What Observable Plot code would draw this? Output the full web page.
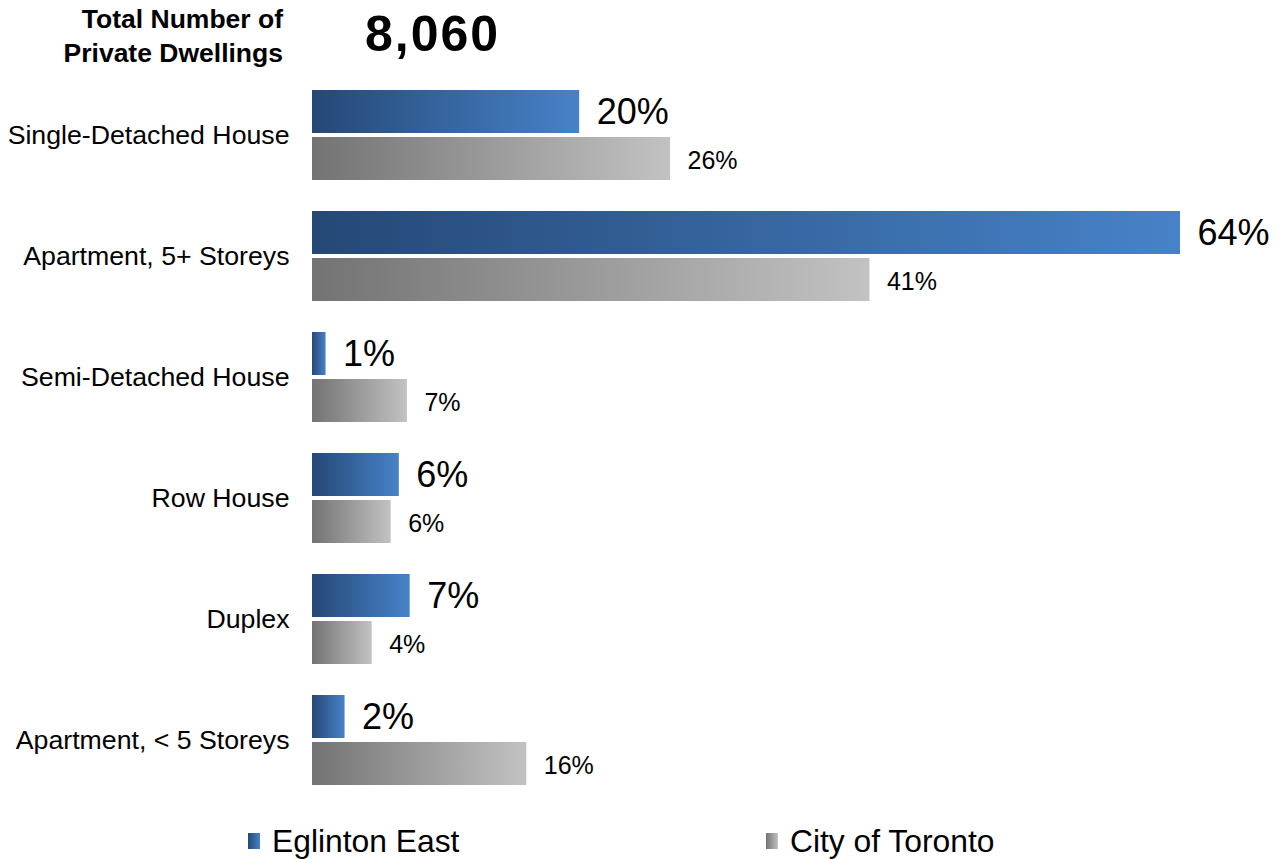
<!DOCTYPE html>
<html>
<head>
<meta charset="utf-8">
<script src="https://cdn.jsdelivr.net/npm/d3@7"></script>
<script src="https://cdn.jsdelivr.net/npm/@observablehq/plot@0.6"></script>
<style>
  html, body { margin: 0; padding: 0; background: #fff; }
  body { width: 1281px; height: 859px; position: relative; overflow: hidden;
         font-family: "Liberation Sans", Arial, Helvetica, sans-serif; color: #000; }
  #title { position: absolute; left: 0; top: 2px; width: 283px; text-align: right;
           font-weight: bold; font-size: 26.5px; line-height: 34px; }
  #total { position: absolute; left: 365px; top: 9px; font-weight: bold;
           font-size: 50px; line-height: 50px; letter-spacing: 2px; }
  #chart { position: absolute; left: 0; top: 80px; }
  .legend-item { position: absolute; top: 823px; height: 36px; display: flex; align-items: center;
                 font-size: 31.8px; }
  .swatch { width: 12px; height: 16px; margin-right: 12px; }
</style>
</head>
<body>
<div id="title">Total Number of<br>Private Dwellings</div>
<div id="total"></div>
<div id="chart"></div>
<div class="legend-item" style="left:248px"><div class="swatch" style="background:linear-gradient(to right,#254876,#4782c8)"></div><span>Eglinton East</span></div>
<div class="legend-item" style="left:766px"><div class="swatch" style="background:linear-gradient(to right,#737373,#c2c2c2)"></div><span>City of Toronto</span></div>
<script>
const totalDwellings = "8,060";
const categories = ["Single-Detached House", "Apartment, 5+ Storeys", "Semi-Detached House", "Row House", "Duplex", "Apartment, < 5 Storeys"];
const seriesNames = ["Eglinton East", "City of Toronto"];
const eglintonEast = [19.7, 64.0, 1.0, 6.4, 7.2, 2.4];
const cityOfToronto = [26.4, 41.1, 7.0, 5.8, 4.4, 15.8];

document.getElementById("total").textContent = totalDwellings;

const rows = categories.flatMap((c, i) => [
  {category: c, series: seriesNames[0], value: eglintonEast[i]},
  {category: c, series: seriesNames[1], value: cityOfToronto[i]}
]);
const blue = rows.filter(d => d.series === seriesNames[0]);
const gray = rows.filter(d => d.series === seriesNames[1]);
const pct = d => Math.round(d.value) + "%";

const plot = Plot.plot({
  width: 1281,
  height: 725,
  marginLeft: 312,
  marginRight: 101,
  marginTop: 9,
  marginBottom: 19,
  style: {fontFamily: "'Liberation Sans', Arial, sans-serif", fontSize: "26px", color: "#000", background: "#fff"},
  x: {domain: [0, 64], axis: null},
  y: {domain: seriesNames, axis: null, paddingInner: 0.0833, paddingOuter: 0},
  fy: {domain: categories, axis: null, paddingInner: 0.24, paddingOuter: 0, label: null},
  marks: [
    Plot.barX(blue, {x: "value", y: "series", fy: "category", fill: "url(#gBlue)"}),
    Plot.barX(gray, {x: "value", y: "series", fy: "category", fill: "url(#gGray)"}),
    Plot.text(blue, {x: "value", y: "series", fy: "category", text: pct, dx: 17, textAnchor: "start", fontSize: 36, fill: "#000"}),
    Plot.text(gray, {x: "value", y: "series", fy: "category", text: pct, dx: 17, dy: 2, textAnchor: "start", fontSize: 25, fill: "#000"}),
    Plot.axisFy({anchor: "left", tickSize: 0, tickPadding: 23, fontSize: 26.7, label: null})
  ]
});

const svg = d3.select(plot);
const defs = svg.insert("defs", ":first-child");
const g1 = defs.append("linearGradient").attr("id", "gBlue").attr("x1", 0).attr("x2", 1).attr("y1", 0).attr("y2", 0);
g1.append("stop").attr("offset", "0%").attr("stop-color", "#254876");
g1.append("stop").attr("offset", "100%").attr("stop-color", "#4782c8");
const g2 = defs.append("linearGradient").attr("id", "gGray").attr("x1", 0).attr("x2", 1).attr("y1", 0).attr("y2", 0);
g2.append("stop").attr("offset", "0%").attr("stop-color", "#737373");
g2.append("stop").attr("offset", "100%").attr("stop-color", "#c2c2c2");

document.getElementById("chart").appendChild(plot);
</script>
</body>
</html>
